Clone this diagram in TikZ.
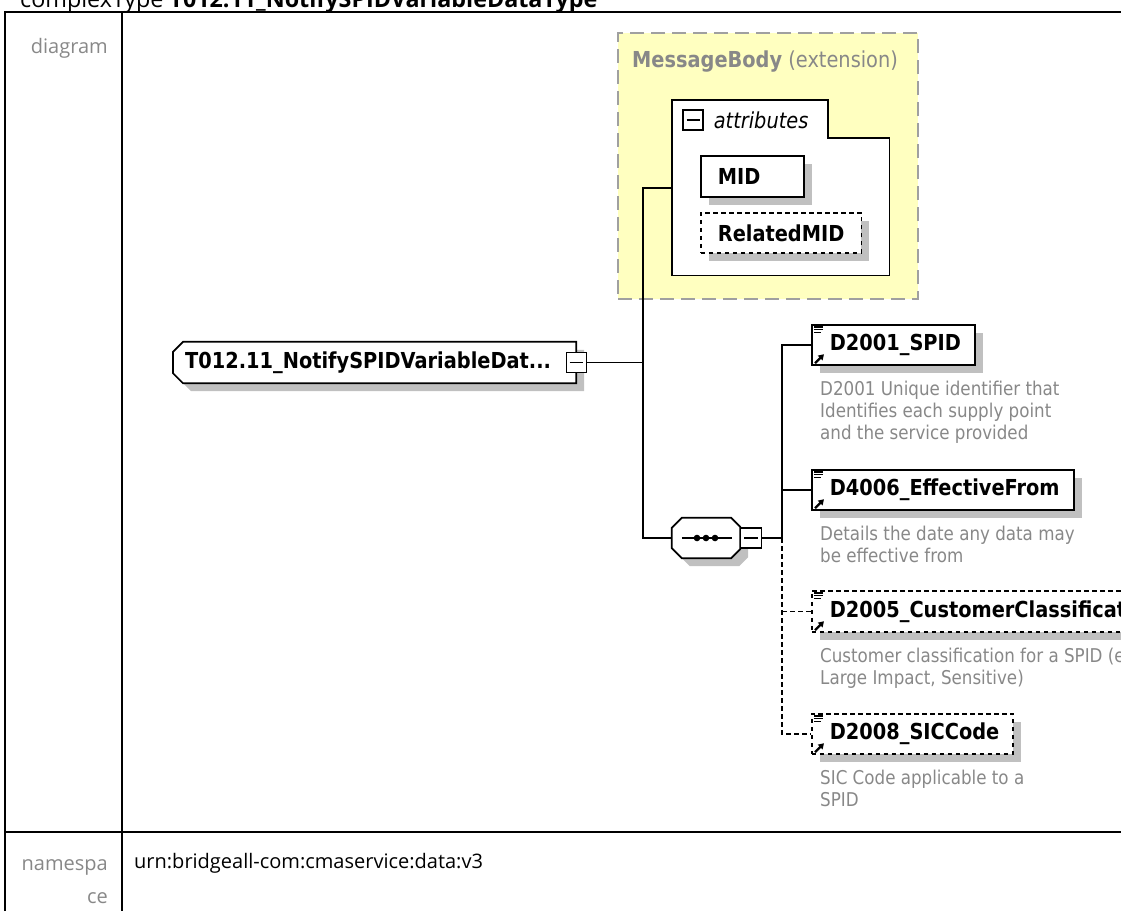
\documentclass[tikz,border=0pt]{standalone}
\usepackage{fontspec}
\setmainfont{Open Sans}
\newfontfamily\xsdfont[FakeStretch=0.88]{DejaVu Sans}
\usetikzlibrary{arrows.meta,positioning,calc,shadows,backgrounds}
\definecolor{ink}{HTML}{000000}
\definecolor{shade}{HTML}{C0C0C0}
\definecolor{pale}{HTML}{FFFFC0}
\definecolor{frame}{HTML}{A0A0A0}
\definecolor{muted}{HTML}{888888}
\tikzset{
 wire/.style={draw=ink,line width=1.6pt},
 xsdopt/.style={dash pattern=on 4.5pt off 3.5pt},
 boxshadow/.style={drop shadow={shadow xshift=8pt,shadow yshift=-8pt,fill=shade,opacity=1}},
 xsdelem/.style={draw=ink,line width=1.7pt,fill=white,boxshadow,anchor=north west,minimum height=40pt,inner xsep=14pt,inner ysep=0pt,font=\xsdfont\fontsize{22}{26}\selectfont\bfseries,execute at begin node={\hspace*{4pt}}},
 xsdattr/.style={draw=ink,line width=1.7pt,fill=white,boxshadow,anchor=north west,minimum height=41pt,inner xsep=17pt,inner ysep=0pt,font=\xsdfont\fontsize{22}{26}\selectfont\bfseries},
 xsddesc/.style={inner sep=0pt,align=left,text=muted,font=\xsdfont\fontsize{19}{22}\selectfont},
 toggle/.style={draw=ink,line width=1.3pt,fill=white,minimum width=20pt,minimum height=20pt,inner sep=0pt,
   path picture={\draw[line width=1.3pt] ([xshift=3.5pt]path picture bounding box.west) -- ([xshift=-3.5pt]path picture bounding box.east);}},
 rowlabel/.style={text=muted,font=\fontsize{20}{33}\selectfont,align=right,inner sep=0pt}
}
% small marks inside an element box
\newcommand\refmarks[1]{%
  \foreach \k/\w in {0/9,2.8/9,5.6/7}
    \draw[line width=1.2pt] ($(#1.north west)+(3,3+\k)$) -- ++(\w,0);
  \draw[line width=2.2pt,-{Triangle[length=5.5pt,width=6.5pt]}] ($(#1.south west)+(4,-2.5)$) -- ++(9,-9);
}

\begin{document}
\begin{tikzpicture}[x=1pt,y=-1pt]
  \useasboundingbox (0,0) rectangle (1121,911);

  % table frame
  \draw[line width=2pt] (5,911) -- (5,12) -- (1121,12);
  \draw[line width=2pt] (122,12) -- (122,911);
  \draw[line width=2pt] (5,832) -- (1121,832);
  \node[anchor=base west,inner sep=0pt,font=\fontsize{23.3}{28}\selectfont] (title) at (20,7)
    {complexType \textbf{T012.11\_NotifySPIDVariableDataType}};
  \node[rowlabel,anchor=base east] (diaglbl) at (108,53) {diagram};
  \node[rowlabel,anchor=north east] (nslbl) at (108,859) {namespa\\ce};
  \node[anchor=base west,inner sep=0pt,font=\fontsize{20}{24}\selectfont] (nsval) at (134,868)
    {urn:bridgeall-com:cmaservice:data:v3};

  % base type
  \node[draw=frame,line width=2pt,dash pattern=on 14pt off 7pt,fill=pale,anchor=north west,
        minimum width=300pt,minimum height=266pt,inner sep=0pt] (msgbody) at (617,32) {};
  \node[anchor=west,inner sep=0pt,text=muted,font=\xsdfont\fontsize{22}{26}\selectfont] (msgname) at (632,62)
    {\textbf{MessageBody} (extension)};
  \node[anchor=north west,minimum width=217pt,minimum height=175pt,inner sep=0pt] (attrs) at (672,100) {};
  \draw[line width=1.7pt,fill=white] (attrs.north west) -- ++(156,0) |- ($(attrs.north east)+(0,38)$)
    -- (attrs.south east) -- (attrs.south west) -- cycle;
  \node[toggle] (attrtoggle) at (693,120) {};
  \node[right=10pt of attrtoggle,inner sep=0pt,font=\xsdfont\fontsize{22}{26}\selectfont\itshape] (attrlbl) {attributes};
  \node[xsdattr,text width=69pt] (mid) at (700,155) {MID};
  \node[xsdattr,xsdopt,minimum height=40pt] (relmid) at (700,212) {RelatedMID};

  % root
  \node[anchor=west,minimum height=41pt,inner xsep=12pt,inner ysep=0pt,
        font=\xsdfont\fontsize{22}{26}\selectfont\bfseries,execute at end node={\hspace*{13pt}}] (root) at (173,362.5)
    {T012.11\_NotifySPIDVariableDat...};
  \node[toggle] (roottoggle) at (root.east) {};

  % sequence
  \node[minimum width=68pt,minimum height=40pt,inner sep=0pt] (seq) at (706,538) {};
  \begin{scope}[on background layer]
    \draw[line width=1.7pt,fill=white,boxshadow] ($(root.north west)+(10,0)$) -- (root.north east) -- (root.south east)
      -- ($(root.south west)+(10,0)$) -- ($(root.south west)+(0,-10)$) -- ($(root.north west)+(0,10)$) -- cycle;
    \draw[line width=1.7pt,fill=white,boxshadow] ($(seq.north west)+(10,0)$) -- ($(seq.north east)+(-9,0)$)
      -- ($(seq.north east)+(0,9)$) -- ($(seq.south east)+(0,-9)$) -- ($(seq.south east)+(-9,0)$)
      -- ($(seq.south west)+(10,0)$) -- ($(seq.south west)+(0,-10)$) -- ($(seq.north west)+(0,10)$) -- cycle;
  \end{scope}
  \draw[line width=1.6pt] ($(seq.west)+(10,0)$) -- ($(seq.east)+(-8,0)$);
  \foreach \d in {-9,0,9}
    \fill ($(seq.center)+(\d,0)$) circle (3.3pt);
  \node[toggle,minimum width=21pt] (seqtoggle) at ($(seq.east)+(11,0)$) {};

  % elements
  \node[xsdelem] (spid) at (811,324) {D2001\_SPID};
  \node[xsddesc,below=15pt of spid.south west,anchor=north west,xshift=9pt] (spiddesc)
    {D2001 Unique identifier that\\Identifies each supply point\\and the service provided};
  \node[xsdelem] (eff) at (811,469) {D4006\_EffectiveFrom};
  \node[xsddesc,below=15pt of eff.south west,anchor=north west,xshift=9pt] (effdesc)
    {Details the date any data may\\be effective from};
  \node[xsdelem,xsdopt,minimum height=41pt] (cust) at (811,590) {D2005\_CustomerClassification};
  \node[xsddesc,below=15pt of cust.south west,anchor=north west,xshift=9pt] (custdesc)
    {Customer classification for a SPID (e.g.\\Large Impact, Sensitive)};
  \node[xsdelem,xsdopt] (sic) at (811,713) {D2008\_SICCode};
  \node[xsddesc,below=15pt of sic.south west,anchor=north west,xshift=9pt] (sicdesc)
    {SIC Code applicable to a\\SPID};
  \foreach \e in {spid,eff,cust,sic}
    \refmarks{\e};

  % connectors
  \coordinate (trunk) at ($(attrs.west)+(-29,0)$);
  \draw[wire] (attrs.west) -- (trunk) |- (seq.west);
  \draw[wire] (roottoggle.east) -- (roottoggle.east -| trunk);
  \coordinate (rail) at ($(spid.west)+(-29,0)$);
  \draw[wire] (seqtoggle.east) -| (rail) -- (spid.west);
  \draw[wire] (eff.west -| rail) -- (eff.west);
  \draw[wire,xsdopt] (seqtoggle.east -| rail) |- (sic.west);
  \draw[wire,xsdopt] (cust.west -| rail) -- (cust.west);
\end{tikzpicture}
\end{document}
